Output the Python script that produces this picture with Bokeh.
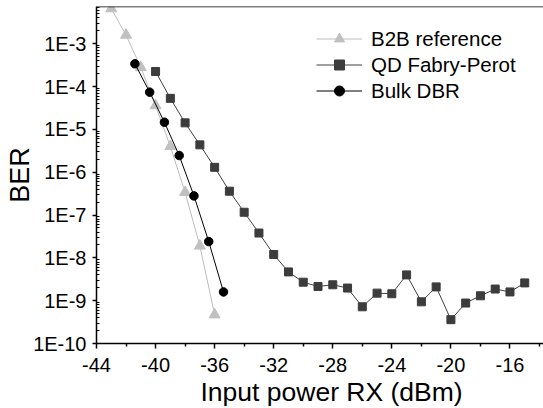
from bokeh.plotting import figure
from bokeh.models import (Range1d, FixedTicker, CustomJSTickFormatter, Legend,
                          LegendItem, Span, Title)
from bokeh.embed import file_html
from bokeh.resources import INLINE

# ---- data ----
b2b_x = [-43, -42, -41, -40, -39, -38, -37, -36]
b2b_ber = [6.6e-3, 1.6e-3, 2.8e-4, 3.6e-5, 4.0e-6, 3.4e-7, 1.9e-8, 4.7e-10]

qd_x = [-40, -39, -38, -37, -36, -35, -34, -33, -32, -31, -30, -29, -28,
        -27, -26, -25, -24, -23, -22, -21, -20, -19, -18, -17, -16, -15]
qd_ber = [2.25e-4, 5.3e-5, 1.42e-5, 4.35e-6, 1.3e-6, 3.6e-7, 1.16e-7, 3.8e-8,
          1.2e-8, 4.7e-9, 2.7e-9, 2.15e-9, 2.35e-9, 1.97e-9, 7.2e-10, 1.5e-9,
          1.45e-9, 4.0e-9, 9.4e-10, 2.1e-9, 3.6e-10, 8.8e-10, 1.3e-9, 1.87e-9,
          1.6e-9, 2.6e-9]

dbr_x = [-41.4, -40.4, -39.4, -38.4, -37.4, -36.4, -35.4]
dbr_ber = [3.4e-4, 7.4e-5, 1.47e-5, 2.45e-6, 2.8e-7, 2.4e-8, 1.6e-9]

series_names = ["B2B reference", "QD Fabry-Perot", "Bulk DBR"]
x_ticks = [-44, -40, -36, -32, -28, -24, -20, -16]
x_minor = [-42, -38, -34, -30, -26, -22, -18, -14]
y_decades = [-10, -9, -8, -7, -6, -5, -4, -3]
x_title = "Input power RX (dBm)"
y_title = "BER"

FONT = "Liberation Sans"
Y_TOP = 7.4e-3

p = figure(width=543, height=408, output_backend="svg", toolbar_location=None,
           x_range=Range1d(-44, -13.73), y_range=Range1d(1e-10, Y_TOP),
           y_axis_type="log",
           min_border_left=96, min_border_right=0, min_border_top=6,
           min_border_bottom=65)
p.background_fill_color = "white"
p.border_fill_color = "white"
p.outline_line_color = None
p.xgrid.visible = False
p.ygrid.visible = False

# top frame line
p.add_layout(Span(location=Y_TOP, dimension="width", line_color="black",
                  line_width=1.5))

# series
r1l = p.line(b2b_x, b2b_ber, line_color="#bdbdbd", line_width=1)
r1m = p.scatter(b2b_x, b2b_ber, marker="triangle", size=11,
                fill_color="#c0c0c0", line_color="#c0c0c0")
r2l = p.line(qd_x, qd_ber, line_color="#404040", line_width=1)
r2m = p.scatter(qd_x, qd_ber, marker="square", size=8,
                fill_color="#3c3c3c", line_color="#3c3c3c")
r3l = p.line(dbr_x, dbr_ber, line_color="black", line_width=1)
r3m = p.scatter(dbr_x, dbr_ber, marker="circle", size=8.5,
                fill_color="black", line_color="black")

legend = Legend(items=[LegendItem(label=series_names[0], renderers=[r1l, r1m]),
                       LegendItem(label=series_names[1], renderers=[r2l, r2m]),
                       LegendItem(label=series_names[2], renderers=[r3l, r3m])],
                location=(220, 240), orientation="vertical",
                glyph_width=46, glyph_height=25, label_height=25,
                label_standoff=9, padding=0, margin=0, spacing=1)
legend.background_fill_alpha = 0
legend.border_line_color = None
legend.label_text_font = FONT
legend.label_text_font_size = "20.5px"
legend.label_text_color = "black"
p.add_layout(legend)

# x axis
xa = p.xaxis[0]
xa.ticker = FixedTicker(ticks=x_ticks, minor_ticks=x_minor)
xa.formatter = CustomJSTickFormatter(code="return String(Math.round(tick));")
xa.axis_line_color = "black"
xa.axis_line_width = 1.5
xa.major_tick_line_color = "black"
xa.major_tick_line_width = 1.5
xa.major_tick_out = 5
xa.major_tick_in = 0
xa.minor_tick_line_color = "black"
xa.minor_tick_line_width = 1.5
xa.minor_tick_out = 3
xa.minor_tick_in = 0
xa.major_label_text_font = FONT
xa.major_label_text_font_size = "20px"
xa.major_label_text_color = "black"
xa.major_label_standoff = 9

# y axis
ya = p.yaxis[0]
major_y = [10.0 ** d for d in y_decades]
minor_y = [k * 10.0 ** d for d in y_decades for k in range(2, 10)]
ya.ticker = FixedTicker(ticks=major_y, minor_ticks=minor_y)
ya.formatter = CustomJSTickFormatter(code="return '1E' + Math.round(Math.log10(tick));")
ya.axis_line_color = "black"
ya.axis_line_width = 1.5
ya.major_tick_line_color = "black"
ya.major_tick_line_width = 1.5
ya.major_tick_out = 4
ya.major_tick_in = 0
ya.minor_tick_line_color = "black"
ya.minor_tick_line_width = 1
ya.minor_tick_out = 0
ya.minor_tick_in = 3
ya.major_label_text_font = FONT
ya.major_label_text_font_size = "20px"
ya.major_label_text_color = "black"
ya.major_label_standoff = 6
ya.axis_label = y_title
ya.axis_label_text_font = FONT
ya.axis_label_text_font_size = "27px"
ya.axis_label_text_font_style = "normal"
ya.axis_label_text_color = "black"
ya.axis_label_standoff = -5

# x-axis title below the axis, offset to match the original's placement
p.add_layout(Title(text=x_title, align="left", offset=104,
                   text_font=FONT, text_font_size="26.5px",
                   text_font_style="normal", text_color="black",
                   standoff=0), "below")

open("out.html", "w").write(file_html(p, INLINE))
